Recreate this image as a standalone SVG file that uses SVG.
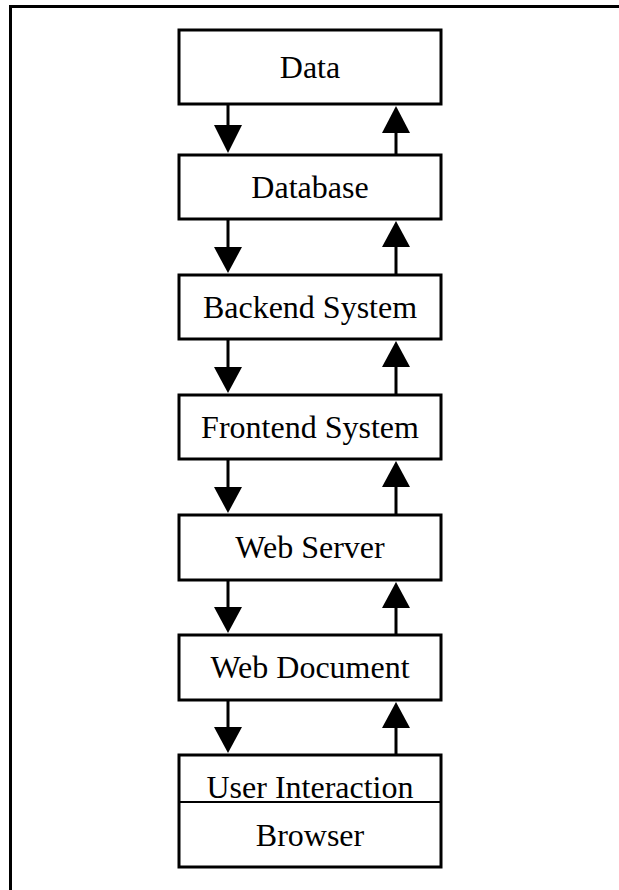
<svg xmlns="http://www.w3.org/2000/svg" width="619" height="890" viewBox="0 0 619 890">
  <style>
    .box { fill: #fff; stroke: #000; stroke-width: 3; }
    .lbl { font-family: "Liberation Serif", "Times New Roman", serif; font-size: 32px; fill: #000; text-anchor: middle; }
    .shaft { stroke: #000; stroke-width: 3; fill: none; }
    .head { fill: #000; }
  </style>
  <rect width="619" height="890" fill="#fff"/>
  <!-- outer frame, open to the right and bottom -->
  <path d="M10.5 890 V6.5 H619" fill="none" stroke="#000" stroke-width="3"/>

  <g id="data"><rect class="box" x="179" y="30" width="262" height="74"/><text class="lbl" x="310" y="78">Data</text></g>
  <g id="database"><rect class="box" x="179" y="155" width="262" height="64"/><text class="lbl" x="310" y="198">Database</text></g>
  <g id="backend"><rect class="box" x="179" y="275" width="262" height="64"/><text class="lbl" x="310" y="318">Backend System</text></g>
  <g id="frontend"><rect class="box" x="179" y="395" width="262" height="64"/><text class="lbl" x="310" y="438">Frontend System</text></g>
  <g id="webserver"><rect class="box" x="179" y="515" width="262" height="65"/><text class="lbl" x="310" y="558">Web Server</text></g>
  <g id="webdocument"><rect class="box" x="179" y="635" width="262" height="65"/><text class="lbl" x="310" y="678">Web Document</text></g>
  <g id="browser">
    <rect class="box" x="179" y="755" width="262" height="112"/>
    <line x1="179" y1="802" x2="441" y2="802" stroke="#000" stroke-width="2"/>
    <text class="lbl" x="310" y="798">User Interaction</text>
    <text class="lbl" x="310" y="846">Browser</text>
  </g>

  <g id="connectors">
    <!-- downward flow -->
    <path class="shaft" d="M228 104 V127"/><path class="head" d="M214 125 H242 L228 153 Z"/>
    <path class="shaft" d="M228 219 V249"/><path class="head" d="M214 247 H242 L228 273 Z"/>
    <path class="shaft" d="M228 339 V369"/><path class="head" d="M214 367 H242 L228 393 Z"/>
    <path class="shaft" d="M228 459 V489"/><path class="head" d="M214 487 H242 L228 513 Z"/>
    <path class="shaft" d="M228 580 V609"/><path class="head" d="M214 607 H242 L228 633 Z"/>
    <path class="shaft" d="M228 700 V729"/><path class="head" d="M214 727 H242 L228 753 Z"/>
    <!-- upward flow -->
    <path class="shaft" d="M396 155 V131"/><path class="head" d="M382 133 H410 L396 106 Z"/>
    <path class="shaft" d="M396 275 V245"/><path class="head" d="M382 247 H410 L396 221 Z"/>
    <path class="shaft" d="M396 395 V365"/><path class="head" d="M382 367 H410 L396 341 Z"/>
    <path class="shaft" d="M396 515 V485"/><path class="head" d="M382 487 H410 L396 461 Z"/>
    <path class="shaft" d="M396 635 V606"/><path class="head" d="M382 608 H410 L396 582 Z"/>
    <path class="shaft" d="M396 755 V726"/><path class="head" d="M382 728 H410 L396 702 Z"/>
  </g>
</svg>
